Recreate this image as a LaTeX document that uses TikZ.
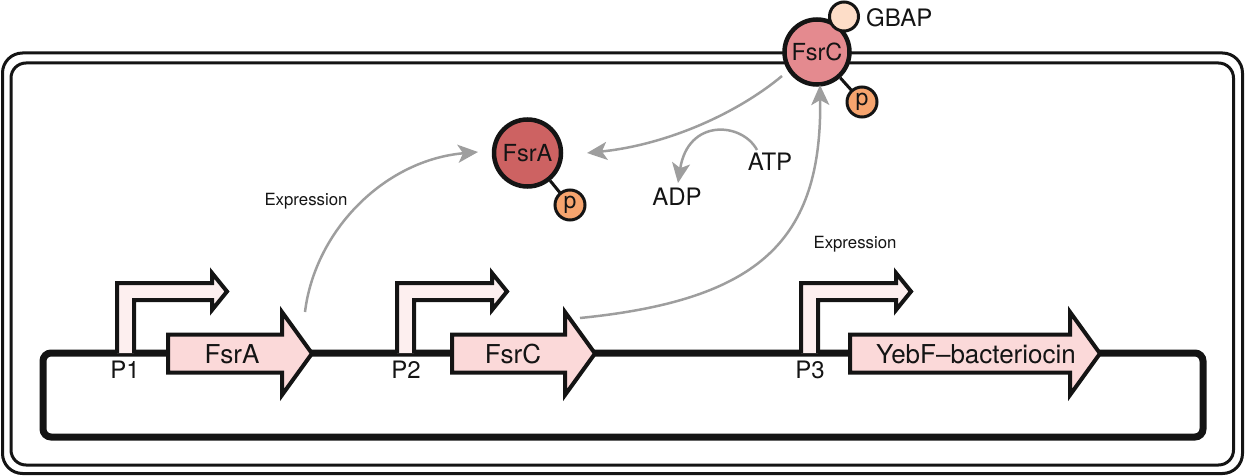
\documentclass[tikz,border=0pt]{standalone}
\usepackage{fontspec}
\setmainfont{TeX Gyre Heros}
\usetikzlibrary{arrows.meta}
\definecolor{fsrcfill}{HTML}{E48A8F}
\definecolor{fsrafill}{HTML}{CD6262}
\definecolor{gbapfill}{HTML}{FDDDC8}
\definecolor{pfill}{HTML}{F6A46E}
\definecolor{genefill}{HTML}{FBD9D9}
\definecolor{promfill}{HTML}{FDEFEF}
\definecolor{arrgray}{HTML}{9E9E9E}
\definecolor{ink}{HTML}{141414}
\newcommand\genearrow[6]{%
  \draw[genebox] (#2,334.5) -- (#3,334.5) -- (#3,312) -- (#4,353.5) -- (#3,395) -- (#3,372.5) -- (#2,372.5) -- cycle;
  \node[genetext] (#1) at (#5,354) {#6};
}
\newcommand\promoter[4]{%
  \draw[prombox] (#2,353) -- (#2,283) -- ({#2+95},283) -- ({#2+95},273) -- ({#2+110},291.5) -- ({#2+95},310) -- ({#2+95},300) -- ({#2+17},300) -- ({#2+17},353);
  \node[bigtext] (#1) at (#3,370) {#4};
}
\begin{document}
\begin{tikzpicture}[x=1pt,y=-1pt,
  bigtext/.style={inner sep=0pt,font=\fontsize{24}{28}\selectfont,text=ink},
  genetext/.style={inner sep=0pt,font=\fontsize{26}{30}\selectfont,text=ink},
  smalltext/.style={inner sep=0pt,font=\fontsize{16.8}{20}\selectfont,text=ink},
  frame/.style={draw=ink,line width=3pt},
  plasmid/.style={draw=ink,line width=7pt,rounded corners=8pt},
  genebox/.style={draw=ink,fill=genefill,line width=4pt},
  prombox/.style={draw=ink,fill=promfill,line width=4pt},
  protein/.style={circle,draw=ink,line width=4.5pt,inner sep=0pt,font=\fontsize{23.5}{27}\selectfont,text=ink},
  smallball/.style={circle,draw=ink,line width=3pt,inner sep=0pt,minimum size=30pt,font=\fontsize{23}{26}\selectfont,text=ink},
  linker/.style={draw=ink,line width=3pt},
  flow/.style={draw=arrgray,line width=2.5pt,-{Stealth[length=20pt,width=18pt,inset=5pt]}}
]
\useasboundingbox (0,0) rectangle (1245,476);
% cell frames
\draw[frame,rounded corners=20pt] (2.5,53) rectangle (1242.5,473.5);
\draw[frame,rounded corners=15pt] (11,63) rectangle (1233.5,465);
% plasmid backbone
\draw[plasmid] (43,353) rectangle (1203,437);
% promoters
\promoter{p1}{117}{125}{P1}
\promoter{p2}{397}{406}{P2}
\promoter{p3}{801}{810}{P3}
% genes
\genearrow{gA}{168}{282}{312}{232}{FsrA}
\genearrow{gC}{452}{565}{595}{513}{FsrC}
\genearrow{gY}{850}{1070}{1100}{976}{YebF–bacteriocin}
\coordinate (gAout) at (305,312);
\coordinate (gCout) at (580,318);
% proteins
\node[protein,fill=fsrcfill,minimum size=65pt] (fsrc) at (817,52) {FsrC};
\draw[linker] (fsrc) -- (862,102);
\node[smallball,fill=pfill] (pc) at (862,102) {p};
\node[circle,draw=ink,line width=3pt,fill=gbapfill,minimum size=29pt,inner sep=0pt] (gbap) at (844,16.5) {};
\node[bigtext,anchor=west] (gbaplab) at (866,18) {GBAP};
\node[protein,fill=fsrafill,minimum size=67pt] (fsra) at (527.5,153) {FsrA};
\draw[linker] (fsra) -- (570,205);
\node[smallball,fill=pfill] (pa) at (570,205) {p};
% small molecules
\node[bigtext] (adp) at (677,197) {ADP};
\node[bigtext] (atp) at (770,162) {ATP};
% labels
\node[smalltext] (ex1) at (306,201) {Expression};
\node[smalltext] (ex2) at (855,244) {Expression};
% flows
\draw[flow] (gAout) .. controls (315,230) and (385,160) .. (478,152);
\draw[flow] (gCout) .. controls (760,300) and (822,240) .. (820,85);
\draw[flow] (782,76) .. controls (735,115) and (665,145) .. (587,153);
\draw[flow] (757,150) .. controls (742,122) and (688,118) .. (678,183);
\end{tikzpicture}
\end{document}
